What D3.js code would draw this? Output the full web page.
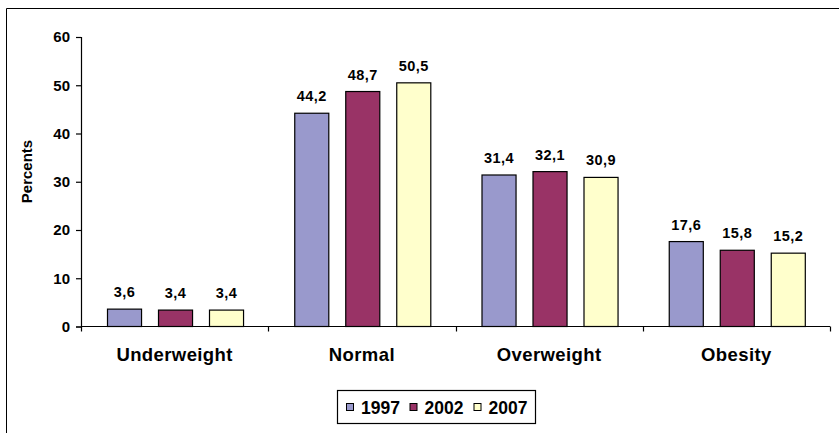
<!DOCTYPE html>
<html>
<head>
<meta charset="utf-8">
<script src="https://cdn.jsdelivr.net/npm/d3@7"></script>
<style>
  html, body { margin: 0; padding: 0; background: #fff; overflow: hidden; }
  svg { display: block; font-family: "Liberation Sans", Arial, sans-serif; font-weight: bold; }
</style>
</head>
<body>
<svg id="chart" width="839" height="433"></svg>
<script>
// BMI categories and survey years
const categories = ["Underweight", "Normal", "Overweight", "Obesity"];
const years = ["1997", "2002", "2007"];
const values1997 = [3.6, 44.2, 31.4, 17.6];
const values2002 = [3.4, 48.7, 32.1, 15.8];
const values2007 = [3.4, 50.5, 30.9, 15.2];
const yTicks = [0, 10, 20, 30, 40, 50, 60];
const colors = ["#9999cc", "#993366", "#ffffcc"];

const seriesValues = [values1997, values2002, values2007];

const svg = d3.select("#chart");
const W = 839, H = 433;

// outer frame (continues past the right and bottom edges)
svg.append("path")
  .attr("d", `M6.5,${H + 5}V8.5H${W + 5}`)
  .attr("fill", "none").attr("stroke", "#000").attr("stroke-width", 1);

const plot = { left: 81, right: 830, top: 37, bottom: 326.5 };

const x = d3.scaleBand().domain(categories).range([plot.left, plot.right]).padding(0);
const xs = d3.scaleBand().domain(years).range([0, x.bandwidth()])
  .paddingInner(1 / 3).paddingOuter(0.5);
const y = d3.scaleLinear().domain([0, 60]).range([plot.bottom, plot.top]);

// bars with value labels
categories.forEach((cat, ci) => {
  const g = svg.append("g").attr("transform", `translate(${x(cat)},0)`);
  years.forEach((yr, si) => {
    const v = seriesValues[si][ci];
    const bx = Math.round(xs(yr)) + 0.5;
    g.append("rect")
      .attr("x", bx)
      .attr("y", y(v))
      .attr("width", xs.bandwidth())
      .attr("height", y(0) - y(v))
      .attr("fill", colors[si])
      .attr("stroke", "#000")
      .attr("stroke-width", 1.2);
    g.append("text")
      .attr("x", bx + xs.bandwidth() / 2)
      .attr("y", y(v) - 12)
      .attr("text-anchor", "middle")
      .attr("font-size", 14.5)
      .attr("letter-spacing", 0.5)
      .text(String(v).replace(".", ","));
  });
});

// y axis
const yAxis = d3.axisLeft(y).tickValues(yTicks).tickSize(5).tickPadding(6);
const gy = svg.append("g").attr("transform", `translate(${plot.left},0)`).call(yAxis);
gy.select(".domain").attr("stroke", "#000").attr("stroke-width", 1.2);
gy.selectAll(".tick line").attr("stroke", "#000").attr("stroke-width", 1.2);
gy.selectAll(".tick text")
  .attr("font-size", 15).attr("font-family", "Liberation Sans, Arial, sans-serif")
  .attr("font-weight", "bold").attr("fill", "#000");

// x axis with ticks on category boundaries
const gx = svg.append("g").attr("transform", `translate(0,${plot.bottom})`);
gx.append("line")
  .attr("x1", plot.left).attr("x2", plot.right)
  .attr("stroke", "#000").attr("stroke-width", 1.2);
const bounds = categories.map(c => x(c)).concat([x(categories[categories.length - 1]) + x.bandwidth()]);
gx.selectAll("line.tk").data(bounds).enter().append("line")
  .attr("class", "tk")
  .attr("x1", d => Math.round(d) + 0.5).attr("x2", d => Math.round(d) + 0.5)
  .attr("y1", 0).attr("y2", 5)
  .attr("stroke", "#000").attr("stroke-width", 1.2);
gx.selectAll("text.cat").data(categories).enter().append("text")
  .attr("class", "cat")
  .attr("x", d => x(d) + x.bandwidth() / 2)
  .attr("y", 34.5)
  .attr("text-anchor", "middle")
  .attr("font-size", 18.5)
  .attr("letter-spacing", 0.4)
  .text(d => d);

// y axis title
svg.append("text")
  .attr("transform", "translate(32,171.5) rotate(-90)")
  .attr("text-anchor", "middle")
  .attr("font-size", 15)
  .text("Percents");

// legend
const leg = svg.append("g");
leg.append("rect")
  .attr("x", 337.5).attr("y", 390.5).attr("width", 198).attr("height", 33)
  .attr("fill", "#fff").attr("stroke", "#000").attr("stroke-width", 1.2);
const legX = [346, 409.5, 473.5];
years.forEach((yr, i) => {
  leg.append("rect")
    .attr("x", legX[i] + 0.5).attr("y", 403.5).attr("width", 7).attr("height", 7)
    .attr("fill", colors[i]).attr("stroke", "#000").attr("stroke-width", 1);
  leg.append("text")
    .attr("x", legX[i] + 15).attr("y", 413.5)
    .attr("font-size", 17.5)
    .text(yr);
});
</script>
</body>
</html>
